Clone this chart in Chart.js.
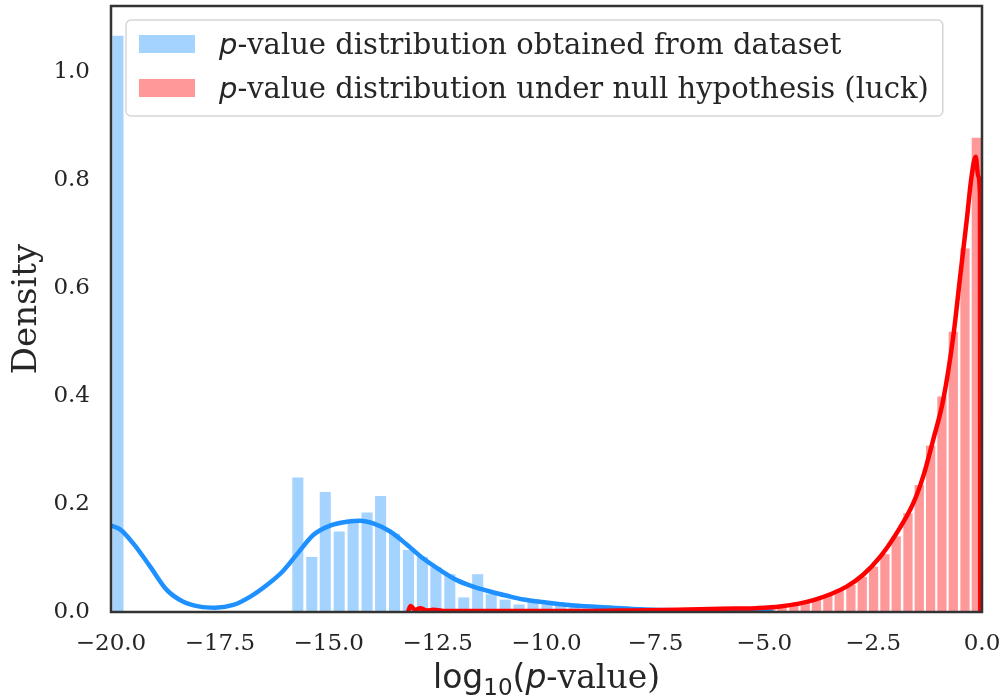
<!DOCTYPE html>
<html>
<head>
<meta charset="utf-8">
<script src="https://cdn.jsdelivr.net/npm/chart.js@4.4.0/dist/chart.umd.min.js"></script>
<style>
  html, body { margin: 0; padding: 0; background: #fff; }
  canvas { display: block; }
</style>
</head>
<body>
<canvas id="chart" width="1003" height="696"></canvas>
<script>
// histogram of log10 p-values from the dataset (bin centers / density)
const obsBinCenters = [-19.84, -15.71, -15.39, -15.08, -14.76, -14.44, -14.12, -13.81, -13.49,
  -13.17, -12.85, -12.54, -12.22, -11.90, -11.58, -11.27, -10.95, -10.63, -10.31,
  -9.99, -9.68, -9.36, -9.04, -8.72, -8.41];
const obsDensity = [1.067, 0.249, 0.102, 0.222, 0.149, 0.168, 0.184, 0.215, 0.145,
  0.115, 0.102, 0.083, 0.070, 0.027, 0.070, 0.033, 0.023, 0.014, 0.019,
  0.014, 0.011, 0.009, 0.005, 0.003, 0.002];

// histogram of log10 p-values under the null hypothesis
const nullBinCenters = [-12.97, -12.71, -12.45, -12.18, -11.92, -11.66, -11.40, -11.13, -10.87, -10.61,
  -10.35, -10.09, -9.82, -9.56, -9.30, -9.04, -8.78, -8.51, -8.25, -7.99,
  -7.73, -7.47, -7.20, -6.94, -6.68, -6.42, -6.16, -5.89, -5.63, -5.37,
  -5.11, -4.85, -4.59, -4.32, -4.06, -3.80, -3.54, -3.28, -3.01, -2.75,
  -2.49, -2.23, -1.97, -1.70, -1.44, -1.18, -0.92, -0.66, -0.39, -0.13];
const nullDensity = [0.004, 0.002, 0.002, 0.001, 0.001, 0.001, 0.001, 0.001, 0.001, 0.001,
  0.001, 0.001, 0.001, 0.001, 0.001, 0.001, 0.001, 0.002, 0.002, 0.002,
  0.002, 0.002, 0.003, 0.003, 0.003, 0.004, 0.004, 0.005, 0.006, 0.007,
  0.008, 0.010, 0.012, 0.016, 0.020, 0.025, 0.031, 0.041, 0.050, 0.065,
  0.084, 0.107, 0.140, 0.183, 0.235, 0.308, 0.399, 0.519, 0.673, 0.878];

// kde curves
const obsKdeX = [-20.0, -19.79, -19.49, -19.10, -18.72, -18.34, -17.96, -17.61, -17.19, -16.81,
  -16.42, -16.06, -15.70, -15.35, -14.97, -14.59, -14.28, -13.98, -13.59, -13.21,
  -12.83, -12.45, -12.06, -11.68, -11.30, -10.91, -10.53, -10.15, -9.73, -9.38,
  -8.50, -7.85, -6.32, -4.80];
const obsKdeY = [0.160, 0.153, 0.127, 0.084, 0.041, 0.019, 0.010, 0.008, 0.013, 0.028,
  0.050, 0.075, 0.110, 0.143, 0.160, 0.167, 0.169, 0.164, 0.149, 0.125,
  0.099, 0.078, 0.059, 0.047, 0.038, 0.030, 0.023, 0.019, 0.015, 0.012,
  0.008, 0.005, 0.002, 0.001];
const nullKdeX = [-13.18, -13.12, -13.02, -12.90, -12.75, -12.60, -12.30, -11.50, -10.0, -9.0,
  -8.0, -7.0, -6.0, -5.20, -4.64, -3.87, -3.11, -2.73, -2.34, -1.96,
  -1.58, -1.35, -1.12, -0.89, -0.66, -0.51, -0.35, -0.24, -0.145, -0.085,
  -0.046, -0.04];
const nullKdeY = [0.0, 0.011, 0.004, 0.007, 0.003, 0.004, 0.002, 0.002, 0.002, 0.002,
  0.003, 0.004, 0.006, 0.007, 0.010, 0.022, 0.047, 0.069, 0.102, 0.146,
  0.201, 0.251, 0.319, 0.393, 0.510, 0.615, 0.726, 0.806, 0.843, 0.806,
  0.769, 0.0];

const legendLabels = [
  'p-value distribution obtained from dataset',
  'p-value distribution under null hypothesis (luck)'
];

const TEXT = '#262626';
const SERIF = '"DejaVu Serif", serif';
const SANS = '"DejaVu Sans", sans-serif';

const pts = (xs, ys) => xs.map((x, i) => ({ x: x, y: ys[i] }));
const fmt = v => (v < 0 ? '\u2212' : '') + Math.abs(v).toFixed(1);

// draw a row of text pieces with different fonts, returns total width
function drawRuns(ctx, runs, x, y, center) {
  let total = 0;
  runs.forEach(r => {
    ctx.font = r.font;
    r.w = ctx.measureText(r.text).width;
    total += r.w;
  });
  let cx = center ? x - total / 2 : x;
  runs.forEach(r => {
    ctx.font = r.font;
    ctx.fillText(r.text, cx, y + (r.dy || 0));
    cx += r.w;
  });
  return total;
}

function labelRuns(label, size) {
  // leading "p" is math italic
  return [
    { text: label[0], font: 'italic ' + size + 'px ' + SANS },
    { text: label.slice(1), font: size + 'px ' + SERIF }
  ];
}

const decorations = {
  id: 'decorations',
  afterDatasetsDraw(chart) {
    const ctx = chart.ctx;
    const a = chart.chartArea;
    ctx.save();
    ctx.strokeStyle = '#333';
    ctx.lineWidth = 2.5;
    ctx.strokeRect(a.left, a.top, a.right - a.left, a.bottom - a.top);
    ctx.restore();
  },
  afterDraw(chart) {
    const ctx = chart.ctx;
    const a = chart.chartArea;
    ctx.save();
    ctx.fillStyle = TEXT;
    ctx.textBaseline = 'alphabetic';

    // x axis title: log10(p-value)
    drawRuns(ctx, [
      { text: 'log', font: '33px ' + SANS },
      { text: '10', font: '23px ' + SANS, dy: 7 },
      { text: '(', font: '33px ' + SANS },
      { text: 'p', font: 'italic 33px ' + SANS },
      { text: '-value)', font: '33px ' + SERIF }
    ], (a.left + a.right) / 2, 688, true);

    // legend
    const size = 29;
    const bx = a.left + 15, by = a.top + 14;
    const textX = bx + 93;
    let maxW = 0;
    legendLabels.forEach(l => {
      let w = 0;
      labelRuns(l, size).forEach(r => { ctx.font = r.font; w += ctx.measureText(r.text).width; });
      maxW = Math.max(maxW, w);
    });
    const bw = textX + maxW + 14 - bx, bh = 96, rad = 5;
    ctx.beginPath();
    ctx.moveTo(bx + rad, by);
    ctx.arcTo(bx + bw, by, bx + bw, by + bh, rad);
    ctx.arcTo(bx + bw, by + bh, bx, by + bh, rad);
    ctx.arcTo(bx, by + bh, bx, by, rad);
    ctx.arcTo(bx, by, bx + bw, by, rad);
    ctx.closePath();
    ctx.fillStyle = 'rgba(255,255,255,0.9)';
    ctx.fill();
    ctx.strokeStyle = '#d6d6d6';
    ctx.lineWidth = 1.5;
    ctx.stroke();

    const barSets = chart.data.datasets.filter(d => d.type === 'bar');
    legendLabels.forEach((l, i) => {
      const cy = by + 24 + i * 44;
      ctx.fillStyle = barSets[i].backgroundColor;
      ctx.fillRect(bx + 13, cy - 9, 56, 18);
      ctx.fillStyle = TEXT;
      drawRuns(ctx, labelRuns(l, size), textX, cy + 10, false);
    });
    ctx.restore();
  }
};

const tickFont = { family: SERIF, size: 23 };

new Chart(document.getElementById('chart'), {
  type: 'bar',
  data: {
    datasets: [
      {
        type: 'line', label: 'null kde', data: pts(nullKdeX, nullKdeY), xAxisID: 'x',
        borderColor: '#ff0000', borderWidth: 4.5, pointRadius: 0, cubicInterpolationMode: 'monotone',
        order: 0
      },
      {
        type: 'line', label: 'observed kde', data: pts(obsKdeX, obsKdeY), xAxisID: 'x',
        borderColor: '#1e90ff', borderWidth: 4.5, pointRadius: 0, cubicInterpolationMode: 'monotone',
        order: 1
      },
      {
        type: 'bar', label: legendLabels[0], data: pts(obsBinCenters, obsDensity), xAxisID: 'x',
        backgroundColor: 'rgba(30,144,255,0.4)', barPercentage: 0.82, categoryPercentage: 1,
        grouped: false, order: 3
      },
      {
        type: 'bar', label: legendLabels[1], data: pts(nullBinCenters, nullDensity), xAxisID: 'x2',
        backgroundColor: 'rgba(255,0,0,0.4)', barPercentage: 0.82, categoryPercentage: 1,
        grouped: false, order: 2
      }
    ]
  },
  options: {
    responsive: false,
    animation: false,
    devicePixelRatio: 1,
    layout: { padding: { top: 6, right: 21, left: 0, bottom: 0 } },
    plugins: { legend: { display: false }, tooltip: { enabled: false } },
    scales: {
      x: {
        type: 'linear', min: -20, max: 0, offset: false,
        grid: { display: false, drawTicks: false, offset: false },
        border: { display: false },
        ticks: { stepSize: 2.5, includeBounds: false, padding: 18, font: tickFont, color: TEXT, maxRotation: 0, callback: v => fmt(v) },
        afterFit: s => { s.height = 84; s.paddingLeft = 0; s.paddingRight = 0; }
      },
      x2: { type: 'linear', min: -20, max: 0, offset: false, display: false, grid: { offset: false } },
      y: {
        min: 0, max: 1.122,
        grid: { display: false, drawTicks: false },
        border: { display: false },
        ticks: { stepSize: 0.2, includeBounds: false, padding: 21, font: tickFont, color: TEXT, callback: v => v.toFixed(1) },
        title: { display: true, text: 'Density', color: TEXT, font: { family: SERIF, size: 34 }, padding: { top: 7, bottom: 0 } },
        afterFit: s => { s.width = 111; s.paddingTop = 0; s.paddingBottom = 0; }
      }
    }
  },
  plugins: [decorations]
});
</script>
</body>
</html>
